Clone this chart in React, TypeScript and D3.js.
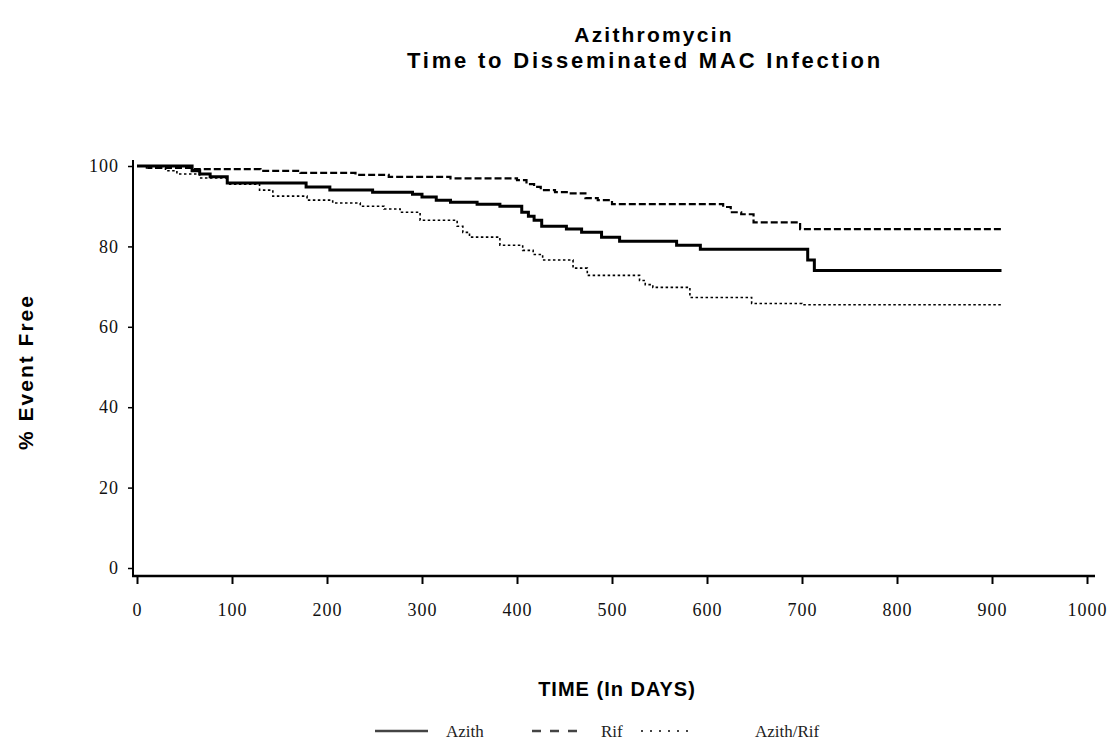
import React, { useRef, useEffect } from "react";
import * as d3 from "d3";

// Kaplan-Meier step data (days, % event free)
const azithDays = [0, 58, 66, 77, 95, 178, 203, 248, 290, 300, 315, 330, 358, 382, 405, 412, 418, 426, 452, 468, 489, 508, 568, 593, 706, 713, 910];
const azithPct = [100, 98.8, 98, 97.3, 95.8, 94.8, 94, 93.5, 93, 92.3, 91.5, 91, 90.5, 90, 88.5, 87.5, 86.5, 85, 84.3, 83.5, 82.3, 81.3, 80.3, 79.3, 76.6, 74, 74];

const rifDays = [0, 12, 60, 130, 172, 230, 265, 330, 400, 410, 418, 425, 440, 455, 472, 485, 500, 617, 625, 636, 649, 698, 910];
const rifPct = [100, 99.5, 99.2, 98.8, 98.3, 97.8, 97.3, 96.9, 96.5, 95.5, 94.8, 94, 93.5, 93.2, 92, 91.5, 90.5, 89.8, 88.5, 88, 86, 84.3, 84];

const comboDays = [0, 10, 30, 42, 66, 95, 129, 143, 179, 206, 235, 260, 277, 298, 337, 343, 350, 382, 406, 417, 427, 459, 474, 529, 535, 543, 582, 647, 700, 910];
const comboPct = [100, 99.5, 98.8, 98, 97, 95.5, 94, 92.5, 91.5, 90.8, 90, 89.3, 88.5, 86.5, 85, 83.5, 82.3, 80.3, 79, 78, 76.6, 74.6, 72.8, 71.5, 70.5, 69.8, 67.3, 65.8, 65.5, 65.3];

const xTicks = [0, 100, 200, 300, 400, 500, 600, 700, 800, 900, 1000];
const yTicks = [0, 20, 40, 60, 80, 100];

const seriesNames = ["Azith", "Rif", "Azith/Rif"];

const W = 1113;
const H = 740;

const App = () => {
  const svgRef = useRef(null);

  useEffect(() => {
    const svg = d3.select(svgRef.current);
    svg.selectAll("*").remove();

    const x = d3.scaleLinear().domain([0, 1000]).range([137, 1087]);
    const y = d3.scaleLinear().domain([0, 100]).range([568, 166]);

    const sans = "'Liberation Sans', Arial, sans-serif";
    const serif = "'Liberation Serif', 'Times New Roman', serif";

    // titles
    svg
      .append("text")
      .attr("x", 654)
      .attr("y", 42)
      .attr("text-anchor", "middle")
      .attr("font-family", sans)
      .attr("font-weight", "bold")
      .attr("font-size", 21)
      .attr("letter-spacing", 2.2)
      .text("Azithromycin");
    svg
      .append("text")
      .attr("x", 645)
      .attr("y", 68)
      .attr("text-anchor", "middle")
      .attr("font-family", sans)
      .attr("font-weight", "bold")
      .attr("font-size", 22)
      .attr("letter-spacing", 2.8)
      .text("Time to Disseminated MAC Infection");

    // y axis
    const yAxis = svg
      .append("g")
      .attr("transform", "translate(133,0)")
      .call(d3.axisLeft(y).tickValues(yTicks).tickSize(5).tickPadding(9));
    yAxis.select(".domain").remove();
    yAxis.selectAll("line").attr("stroke", "#000").attr("stroke-width", 1.5);
    yAxis
      .selectAll("text")
      .attr("font-family", serif)
      .attr("font-size", 18)
      .attr("letter-spacing", 1)
      .attr("fill", "#111");

    svg
      .append("line")
      .attr("x1", 133)
      .attr("x2", 133)
      .attr("y1", 160)
      .attr("y2", 577)
      .attr("stroke", "#000")
      .attr("stroke-width", 2);

    // x axis
    const xAxis = svg
      .append("g")
      .attr("transform", "translate(0,576)")
      .call(
        d3
          .axisBottom(x)
          .tickValues(xTicks)
          .tickFormat(d3.format("d"))
          .tickSize(8)
          .tickPadding(19)
      );
    xAxis.select(".domain").remove();
    xAxis.selectAll("line").attr("stroke", "#000").attr("stroke-width", 2);
    xAxis
      .selectAll("text")
      .attr("font-family", serif)
      .attr("font-size", 18)
      .attr("letter-spacing", 1)
      .attr("fill", "#111");

    svg
      .append("line")
      .attr("x1", 132)
      .attr("x2", 1095)
      .attr("y1", 576)
      .attr("y2", 576)
      .attr("stroke", "#000")
      .attr("stroke-width", 2.5);

    // axis titles
    svg
      .append("text")
      .attr("transform", "translate(33,372) rotate(-90)")
      .attr("text-anchor", "middle")
      .attr("font-family", sans)
      .attr("font-weight", "bold")
      .attr("font-size", 21)
      .attr("letter-spacing", 2)
      .text("% Event Free");
    svg
      .append("text")
      .attr("x", 617)
      .attr("y", 696)
      .attr("text-anchor", "middle")
      .attr("font-family", sans)
      .attr("font-weight", "bold")
      .attr("font-size", 20)
      .attr("letter-spacing", 1)
      .text("TIME (In DAYS)");

    // curves
    const line = d3
      .line()
      .x((d) => x(d[0]))
      .y((d) => y(d[1]))
      .curve(d3.curveStepAfter);

    const series = [
      { days: azithDays, pct: azithPct, width: 3, dash: null },
      { days: rifDays, pct: rifPct, width: 2.2, dash: "7,3" },
      { days: comboDays, pct: comboPct, width: 1.6, dash: "2.5,2.5" },
    ];

    series.forEach((s) => {
      svg
        .append("path")
        .datum(s.days.map((d, i) => [d, s.pct[i]]))
        .attr("fill", "none")
        .attr("stroke", "#000")
        .attr("stroke-width", s.width)
        .attr("stroke-dasharray", s.dash)
        .attr("d", line);
    });

    // legend
    const legY = 731;
    const legend = [
      { x1: 375, x2: 428, tx: 446, dash: null, w: 2.5 },
      { x1: 532, x2: 577, tx: 601, dash: "9,9", w: 2.5 },
      { x1: 641, x2: 692, tx: 755, dash: "2,7", w: 2 },
    ];
    legend.forEach((l, i) => {
      svg
        .append("line")
        .attr("x1", l.x1)
        .attr("x2", l.x2)
        .attr("y1", legY)
        .attr("y2", legY)
        .attr("stroke", "#444")
        .attr("stroke-width", l.w)
        .attr("stroke-dasharray", l.dash);
      svg
        .append("text")
        .attr("x", l.tx)
        .attr("y", legY + 6)
        .attr("font-family", serif)
        .attr("font-size", 17)
        .attr("fill", "#222")
        .text(seriesNames[i]);
    });
  }, []);

  return (
    <svg
      ref={svgRef}
      width={W}
      height={H}
      style={{ position: "absolute", left: 0, top: 0, background: "#fff" }}
    />
  );
};

export default App;
